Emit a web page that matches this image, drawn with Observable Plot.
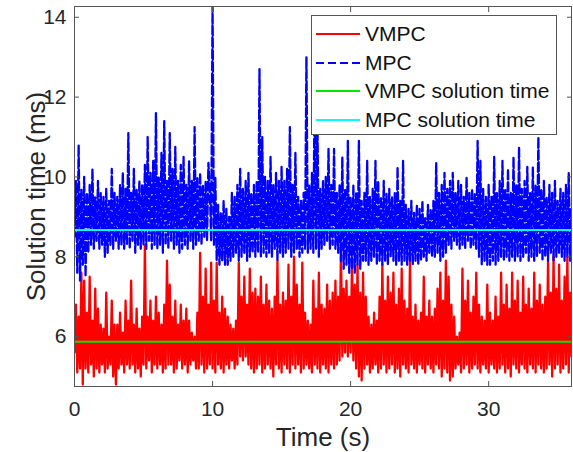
<!DOCTYPE html>
<html>
<head>
<meta charset="utf-8">
<script src="https://cdn.jsdelivr.net/npm/d3@7"></script>
<script src="https://cdn.jsdelivr.net/npm/@observablehq/plot@0.6"></script>
<style>
  body { margin: 0; background: #fff; }
  #wrap { position: relative; width: 573px; height: 452px; font-family: "Liberation Sans", Arial, Helvetica, sans-serif; }
  #wrap svg { display: block; }
  #wrap svg [aria-label="x-axis label"] text, #wrap svg [aria-label="y-axis label"] text { font-size: 26px; }
  #legend { position: absolute; left: 311px; top: 15px; width: 246px; height: 120px; border: 1px solid #555; background: #fff; box-sizing: border-box; padding-top: 4px; }
  .row { display: flex; align-items: center; height: 28.5px; }
  .row svg { margin-left: 4px; margin-right: 5px; }
  .row span { font-size: 21px; color: #111; white-space: nowrap; }
</style>
</head>
<body>
<div id="wrap"><div id="legend"></div></div>
<script>
// sample step of the recorded series (s)
const sampleStep = 0.1;
const xTicks = [0, 10, 20, 30];
const yTicks = [6, 8, 10, 12, 14];
const seriesNames = ["VMPC", "MPC", "VMPC solution time", "MPC solution time"];
const seriesColors = ["#ff0000", "#0000ff", "#00e600", "#00ffff"];
const vmpcMean = 5.87;
const mpcMean = 8.67;

// VMPC solution time (ms), one row per second
const vmpc = [
  5.6, 6.8, 5.1, 6.5, 5.2, 7.6, 4.8, 7.4, 5.2, 6.6,
  5.1, 7.5, 5.3, 6.4, 5.0, 7.2, 5.2, 6.7, 5.1, 6.3,
  5.3, 6.2, 5.1, 7.1, 5.2, 6.0, 5.3, 6.9, 5.0, 6.3,
  4.8, 6.3, 5.2, 6.6, 5.3, 6.1, 5.1, 6.9, 5.3, 6.4,
  5.2, 7.4, 5.3, 6.3, 5.1, 6.7, 5.2, 6.2, 5.0, 6.5,
  5.3, 8.3, 5.2, 6.5, 5.4, 6.9, 5.1, 6.4, 5.3, 7.0,
  5.2, 6.6, 5.3, 6.3, 5.1, 6.8, 5.2, 7.9, 5.3, 7.3,
  5.3, 6.5, 5.1, 6.9, 5.2, 6.3, 5.4, 6.8, 5.2, 6.4,
  5.3, 6.7, 5.1, 6.4, 5.3, 6.1, 5.4, 6.0, 5.2, 6.6,
  5.2, 8.1, 5.3, 7.0, 5.1, 7.7, 5.2, 6.8, 5.3, 7.85,
  5.2, 6.9, 5.1, 7.85, 5.3, 6.6, 5.2, 7.0, 5.1, 6.7,
  5.3, 6.5, 5.2, 6.3, 5.4, 6.2, 5.2, 6.4, 5.3, 7.85,
  5.5, 7.0, 5.4, 7.5, 5.5, 6.8, 5.3, 7.7, 5.2, 7.1,
  5.1, 7.2, 5.2, 7.0, 5.3, 7.5, 5.1, 6.8, 5.2, 7.3,
  5.3, 6.9, 5.2, 6.7, 5.0, 7.0, 5.3, 7.9, 5.2, 6.8,
  5.1, 7.1, 5.3, 6.9, 5.2, 7.8, 5.1, 7.0, 5.3, 8.0,
  5.2, 7.3, 5.3, 6.8, 5.1, 7.85, 5.2, 6.6, 5.3, 6.4,
  5.2, 6.3, 5.1, 7.4, 5.3, 6.7, 5.2, 7.6, 5.1, 6.8,
  5.3, 6.7, 5.2, 7.3, 5.1, 6.9, 5.3, 7.1, 5.2, 7.4,
  5.3, 7.0, 5.4, 8.2, 5.5, 7.2, 5.6, 7.4, 5.5, 7.0,
  5.6, 7.85, 5.4, 7.3, 5.2, 7.8, 5.0, 7.1, 4.9, 7.6,
  5.2, 7.0, 5.3, 6.5, 5.1, 6.3, 5.2, 6.6, 5.3, 6.4,
  5.1, 7.0, 5.2, 7.8, 5.3, 6.9, 5.1, 7.5, 5.2, 7.1,
  5.3, 7.6, 5.1, 6.8, 5.2, 7.2, 5.0, 7.7, 5.3, 6.9,
  5.2, 6.7, 5.1, 7.9, 5.3, 6.5, 5.2, 6.8, 5.1, 6.4,
  5.3, 6.6, 5.2, 7.5, 5.1, 6.5, 5.3, 6.9, 5.2, 6.5,
  5.1, 6.7, 5.3, 7.2, 5.2, 7.6, 5.0, 6.9, 5.2, 7.9,
  5.1, 7.5, 4.9, 6.8, 5.0, 6.5, 5.2, 6.0, 5.3, 6.1,
  5.1, 7.7, 5.2, 6.9, 5.3, 7.4, 5.1, 6.6, 5.2, 7.0,
  5.3, 7.6, 5.2, 6.8, 5.1, 6.5, 5.3, 6.4, 5.2, 7.3,
  5.1, 6.6, 5.3, 6.4, 5.2, 7.0, 5.1, 6.5, 5.2, 7.6,
  5.3, 6.8, 5.1, 7.3, 5.2, 6.7, 5.0, 7.6, 5.3, 6.9,
  5.2, 7.4, 5.1, 6.6, 5.3, 7.5, 5.2, 6.8, 5.1, 7.2,
  5.3, 6.7, 5.2, 7.6, 5.1, 6.9, 5.3, 7.3, 5.2, 6.8,
  5.1, 7.0, 5.2, 7.9, 5.3, 7.1, 5.0, 8.0, 5.2, 7.2,
  5.3, 7.8, 5.1, 6.9, 5.2, 7.5, 5.3, 8.0, 5.1, 7.1,
  5.5
];

// MPC solution time (ms), one row per second
const mpc = [
  8.5, 9.9, 7.6, 10.8, 7.4, 9.7, 7.8, 10.0, 7.5, 9.6,
  8.1, 9.8, 8.3, 10.2, 8.2, 9.5, 8.4, 9.9, 8.2, 9.6,
  8.3, 9.5, 8.0, 9.7, 8.1, 9.4, 8.3, 10.2, 8.2, 9.6,
  8.4, 9.5, 8.2, 9.8, 8.3, 10.1, 8.2, 9.7, 8.3, 11.1,
  8.2, 9.6, 8.4, 10.2, 8.1, 9.7, 8.3, 9.9, 8.2, 9.8,
  8.3, 10.3, 8.2, 11.0, 8.4, 10.1, 8.2, 10.4, 8.3, 11.6,
  8.2, 10.0, 8.3, 10.6, 8.1, 11.4, 8.3, 9.9, 8.2, 11.1,
  8.4, 10.2, 8.2, 10.75, 8.3, 9.9, 8.1, 10.3, 8.2, 10.5,
  8.3, 9.8, 8.2, 10.4, 8.4, 9.9, 8.2, 11.25, 8.3, 10.0,
  8.4, 10.1, 8.3, 9.8, 8.5, 9.9, 8.4, 10.35, 9.7, 8.4,
  14.27, 8.3, 10.0, 7.9, 9.3, 7.8, 9.1, 7.9, 9.4, 7.8,
  9.2, 7.8, 9.0, 7.9, 9.6, 8.0, 9.5, 8.1, 9.8, 7.9,
  10.2, 8.0, 9.7, 8.1, 9.9, 7.9, 10.1, 8.0, 9.6, 8.1,
  9.8, 8.0, 9.9, 8.1, 12.7, 8.0, 11.0, 8.1, 10.0, 8.0,
  9.9, 8.1, 10.5, 8.0, 9.8, 8.2, 10.1, 7.9, 9.9, 8.1,
  10.25, 8.0, 9.9, 8.1, 10.2, 8.2, 11.25, 8.0, 9.8, 8.1,
  10.6, 8.2, 9.5, 8.0, 9.4, 8.1, 9.6, 8.2, 13.0, 8.1,
  9.8, 8.2, 10.1, 8.1, 12.7, 8.2, 11.25, 8.0, 9.7, 8.2,
  9.9, 8.3, 10.0, 8.4, 10.7, 8.2, 9.8, 8.3, 10.7, 8.2,
  9.6, 8.1, 9.8, 7.9, 10.5, 7.7, 9.7, 7.8, 10.9, 7.6,
  9.5, 7.7, 9.8, 7.6, 9.6, 7.8, 10.9, 7.7, 9.4, 7.9,
  9.6, 7.9, 10.4, 7.8, 9.5, 7.9, 9.7, 8.0, 10.4, 7.8,
  9.9, 7.9, 9.5, 7.8, 9.9, 7.9, 9.6, 7.8, 9.7, 8.0,
  9.5, 7.9, 9.6, 7.8, 10.25, 7.9, 9.4, 7.8, 10.4, 7.9,
  9.3, 7.8, 9.2, 7.9, 9.4, 7.8, 9.1, 7.9, 9.3, 7.8,
  9.2, 7.9, 9.4, 8.0, 9.0, 7.9, 9.3, 8.1, 9.2, 8.0,
  9.4, 8.0, 10.35, 8.1, 9.6, 7.9, 9.8, 8.0, 10.1, 8.1,
  9.7, 8.3, 9.9, 8.2, 10.1, 8.4, 9.6, 8.3, 9.9, 8.2,
  9.8, 8.3, 9.5, 8.2, 10.0, 8.4, 9.6, 8.2, 9.7, 8.3,
  9.6, 8.2, 10.9, 8.0, 10.4, 7.8, 9.7, 7.9, 9.5, 7.8,
  9.8, 7.8, 9.5, 7.9, 10.5, 7.8, 9.6, 7.9, 9.9, 8.0,
  10.4, 7.9, 9.7, 8.0, 10.2, 7.9, 9.6, 8.0, 10.5, 7.9,
  9.8, 8.0, 10.75, 7.9, 9.7, 8.0, 9.9, 8.1, 10.25, 7.9,
  9.6, 8.0, 10.25, 7.9, 9.8, 8.0, 11.0, 8.1, 9.7, 7.9,
  9.9, 8.0, 9.5, 7.9, 9.8, 8.1, 9.6, 7.9, 9.9, 8.0,
  9.4, 8.1, 9.7, 8.0, 9.6, 7.9, 9.8, 8.0, 10.1, 7.9,
  9.2
];

const font = '"Liberation Sans", Arial, Helvetica, sans-serif';
const tAt = (d, i) => i * sampleStep;

const chart = Plot.plot({
  width: 573,
  height: 452,
  marginLeft: 74,
  marginRight: 2,
  marginTop: 6,
  marginBottom: 66,
  style: { fontFamily: font, fontSize: "21px", color: "#262626", background: "white", overflow: "visible" },
  x: { domain: [0, 36] },
  y: { domain: [4.75, 14.27] },
  marks: [
    Plot.lineY(vmpc, { x: tAt, y: d => d, stroke: seriesColors[0], strokeWidth: 2.3, clip: true }),
    Plot.lineY(mpc, { x: tAt, y: d => d, stroke: seriesColors[1], strokeWidth: 2.3, strokeDasharray: "9,3", clip: true }),
    Plot.ruleY([vmpcMean], { stroke: seriesColors[2], strokeWidth: 2 }),
    Plot.ruleY([mpcMean], { stroke: seriesColors[3], strokeWidth: 2 }),
    Plot.frame({ stroke: "#555", strokeWidth: 1 }),
    Plot.axisX(xTicks, { anchor: "bottom", tickSize: -5, tickPadding: 20, stroke: "#555", label: "Time (s)", labelAnchor: "center", labelArrow: "none", labelOffset: 59 }),
    Plot.axisX(xTicks, { anchor: "top", tickSize: -5, stroke: "#555", tickFormat: () => "", label: null }),
    Plot.axisY(yTicks, { anchor: "left", tickSize: -5, tickPadding: 13, stroke: "#555", label: "Solution time (ms)", labelAnchor: "center", labelArrow: "none", labelOffset: 48 }),
    Plot.axisY(yTicks, { anchor: "right", tickSize: -5, stroke: "#555", tickFormat: () => "", label: null })
  ]
});
document.getElementById("wrap").prepend(chart);

// legend (inside the axes box, top-right)
const legend = document.getElementById("legend");
seriesNames.forEach((name, i) => {
  const row = document.createElement("div");
  row.className = "row";
  const dash = i === 1 ? ' stroke-dasharray="8,4"' : "";
  row.innerHTML = `<svg width="44" height="4"><line x1="0" y1="2" x2="44" y2="2" stroke="${seriesColors[i]}" stroke-width="2"${dash}/></svg><span>${name}</span>`;
  legend.appendChild(row);
});
</script>
</body>
</html>
